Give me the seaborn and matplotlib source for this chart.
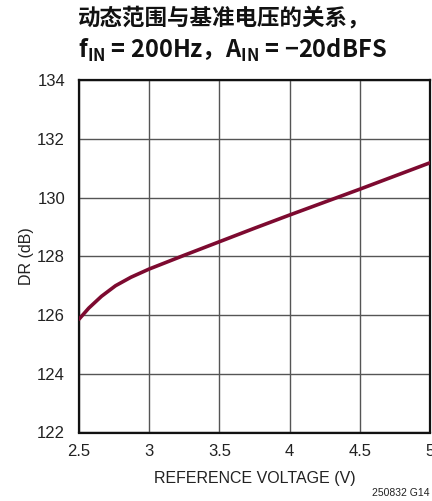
import matplotlib
matplotlib.use("Agg")
import matplotlib.pyplot as plt
import seaborn as sns
import pandas as pd

# Dynamic range vs. reference voltage
ref_voltage = [2.5, 2.57, 2.66, 2.76, 2.87, 3.0, 3.25, 3.5, 3.75, 4.0, 4.25, 4.5, 4.75, 5.0]
dr_db = [125.86, 126.24, 126.64, 127.0, 127.29, 127.57, 128.04, 128.50, 128.96, 129.41, 129.85, 130.29, 130.74, 131.19]

x_ticks = [2.5, 3, 3.5, 4, 4.5, 5]
x_tick_labels = ["2.5", "3", "3.5", "4", "4.5", "5"]
y_ticks = [122, 124, 126, 128, 130, 132, 134]

title_line1 = "动态范围与基准电压的关系，"
title_line2 = r"f$_{\mathregular{IN}}$ = 200Hz，A$_{\mathregular{IN}}$ = −20dBFS"
x_label = "REFERENCE VOLTAGE (V)"
y_label = "DR (dB)"
fig_code = "250832 G14"

sns.set_style("white")
plt.rcParams["font.family"] = ["Liberation Sans", "Noto Sans CJK SC", "DejaVu Sans"]

df = pd.DataFrame({"V": ref_voltage, "DR": dr_db})

fig = plt.figure(figsize=(4.32, 5.01), dpi=100)
ax = fig.add_axes([79 / 432, 68.5 / 501, 351 / 432, 352.2 / 501])

sns.lineplot(data=df, x="V", y="DR", ax=ax, color="#7d0a30", linewidth=2.6, zorder=5)

ax.set_xlim(2.5, 5)
ax.set_ylim(122, 134)
ax.set_xticks(x_ticks)
ax.set_xticklabels(x_tick_labels)
ax.set_yticks(y_ticks)
ax.grid(True, color="#555555", linewidth=1.0)
ax.tick_params(axis="both", length=0, labelsize=12, colors="#222222")
ax.tick_params(axis="x", pad=8)
ax.tick_params(axis="y", pad=10)
for s in ax.spines.values():
    s.set_visible(True)
    s.set_color("#111111")
    s.set_linewidth(1.6)

ax.set_xlabel(x_label, fontsize=11.5, color="#222222", labelpad=9)
ax.set_ylabel(y_label, fontsize=11.5, color="#222222", labelpad=2)

cjk_fonts = ["Noto Sans CJK SC", "DejaVu Sans"]
fig.text(78 / 432, 1 - 7 / 501, title_line1, fontsize=16.2, fontweight="bold",
         family=cjk_fonts, va="top", ha="left", color="#111111")
fig.text(78 / 432, 1 - 37 / 501, title_line2, fontsize=17, fontweight="bold",
         family=cjk_fonts, va="top", ha="left", color="#111111")
fig.text(430 / 432, 1 - 493 / 501, fig_code, fontsize=7.5, ha="right", va="center",
         color="#222222")

fig.savefig("out.png", dpi=100)
